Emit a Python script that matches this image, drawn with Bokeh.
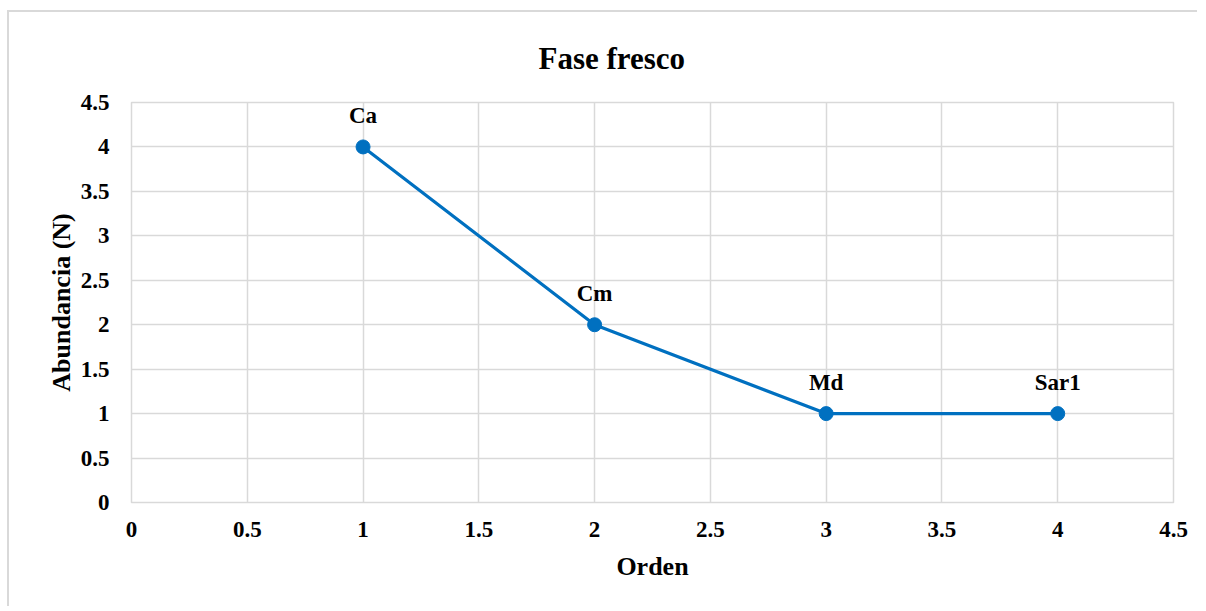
from bokeh.plotting import figure
from bokeh.models import FixedTicker, ColumnDataSource, LabelSet, Title
from bokeh.embed import file_html
from bokeh.resources import INLINE

orden = [1, 2, 3, 4]
abundancia = [4, 2, 1, 1]
especies = ["Ca", "Cm", "Md", "Sar1"]
x_ticks = [0, 0.5, 1, 1.5, 2, 2.5, 3, 3.5, 4, 4.5]
y_ticks = [0, 0.5, 1, 1.5, 2, 2.5, 3, 3.5, 4, 4.5]
titulo = "Fase fresco"

FONT = "Liberation Serif"
GRID = "#d9d9d9"
BLUE = "#0070C0"

p = figure(width=1190, height=596, output_backend="svg", toolbar_location=None,
           x_range=(0, 4.5), y_range=(0, 4.5),
           min_border_left=122, min_border_right=26, min_border_top=90, min_border_bottom=106,
           margin=(10, 0, 0, 7))
p.styles = {"border-left": "2px solid #d9d9d9", "border-top": "2px solid #d9d9d9"}
p.title.visible = False

for ax in (p.xaxis[0], p.yaxis[0]):
    ax.axis_line_color = None
    ax.major_tick_line_color = None
    ax.minor_tick_line_color = None
    ax.major_label_text_font = FONT
    ax.major_label_text_font_size = "23px"
    ax.major_label_text_font_style = "bold"
    ax.major_label_text_color = "black"
    ax.axis_label_text_font = FONT
    ax.axis_label_text_font_size = "26px"
    ax.axis_label_text_font_style = "bold"
    ax.axis_label_text_color = "black"

p.xaxis[0].ticker = FixedTicker(ticks=x_ticks)
p.yaxis[0].ticker = FixedTicker(ticks=y_ticks)
p.xaxis[0].major_label_overrides = {v: f"{v:g}" for v in x_ticks}
p.yaxis[0].major_label_overrides = {v: f"{v:g}" for v in y_ticks}
p.xaxis[0].axis_label = "Orden"
p.yaxis[0].axis_label = "Abundancia (N)"
p.xaxis[0].major_label_standoff = 13
p.yaxis[0].major_label_standoff = 16
p.xaxis[0].axis_label_standoff = 12
p.yaxis[0].axis_label_standoff = 2

p.xgrid.grid_line_color = GRID
p.ygrid.grid_line_color = GRID
p.xgrid.grid_line_width = 1.5
p.ygrid.grid_line_width = 1.5
p.xgrid.ticker = FixedTicker(ticks=x_ticks)
p.ygrid.ticker = FixedTicker(ticks=y_ticks)
p.outline_line_color = GRID
p.outline_line_width = 1.5

title = Title(text=titulo, align="left", offset=407, standoff=52, vertical_align="middle",
              text_font=FONT, text_font_size="31px", text_font_style="bold",
              text_color="black")
p.add_layout(title, "above")

src = ColumnDataSource(dict(x=orden, y=abundancia, name=especies))
p.line("x", "y", source=src, line_color=BLUE, line_width=3.2)
p.scatter("x", "y", source=src, size=14, fill_color=BLUE, line_color=BLUE)

labels = LabelSet(x="x", y="y", text="name", source=src, text_align="center",
                  text_baseline="bottom", y_offset=19, text_font=FONT,
                  text_font_size="23px", text_font_style="bold", text_color="black")
p.add_layout(labels)

open("out.html", "w").write(file_html(p, INLINE))
